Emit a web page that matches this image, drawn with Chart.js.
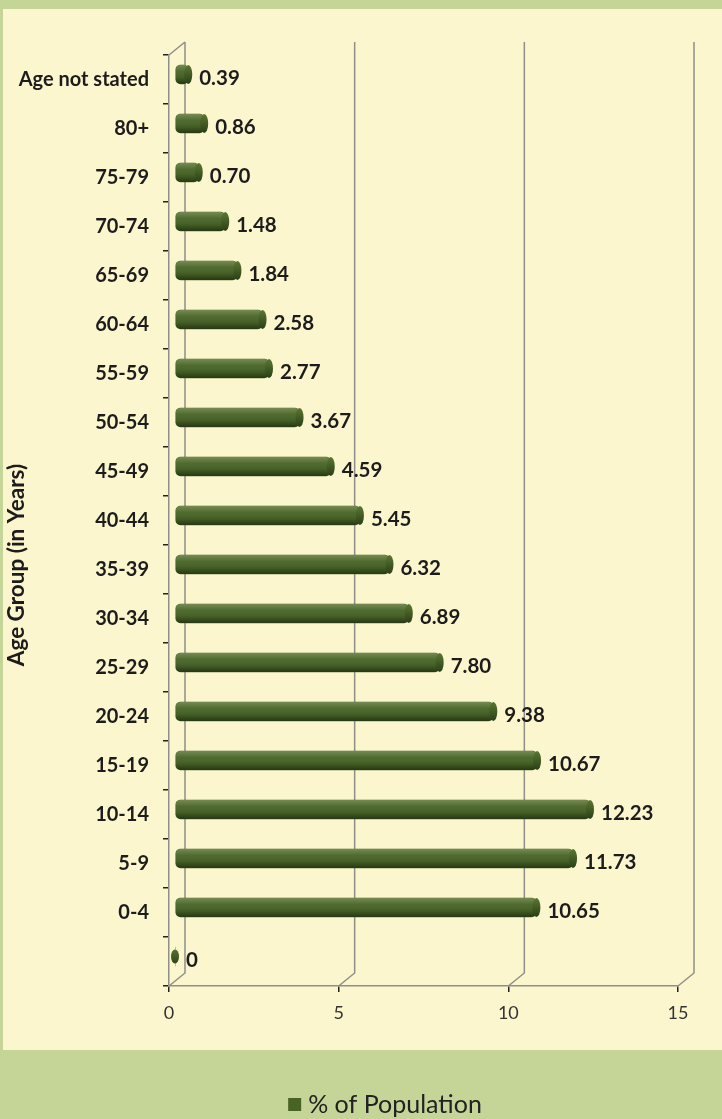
<!DOCTYPE html>
<html>
<head>
<meta charset="utf-8">
<script src="https://cdn.jsdelivr.net/npm/chart.js@4.4.1/dist/chart.umd.min.js"></script>
<style>
  html, body { margin: 0; padding: 0; background: #c5d597; }
  #wrap { width: 722px; height: 1119px; }
</style>
</head>
<body>
<div id="wrap"><canvas id="myChart" width="722" height="1119"></canvas></div>
<script>
const ageGroups = ['Age not stated', '80+', '75-79', '70-74', '65-69', '60-64', '55-59', '50-54', '45-49',
    '40-44', '35-39', '30-34', '25-29', '20-24', '15-19', '10-14', '5-9', '0-4', ''];
const population = [0.39, 0.86, 0.70, 1.48, 1.84, 2.58, 2.77, 3.67, 4.59,
    5.45, 6.32, 6.89, 7.80, 9.38, 10.67, 12.23, 11.73, 10.65, 0];
const xTicks = [0, 5, 10, 15];
const yTitle = 'Age Group (in Years)';
const seriesName = '% of Population';

const FONT = 'Lato';
const BAR_COLOR = '#476426';
const DEPTH_X = 16, DEPTH_Y = 13; // 3d wall offset
const BAR_DX = 6, BAR_DY = -5;    // bars sit half way into the depth

const ctx = document.querySelector('#myChart').getContext('2d');

const frame3d = {
    id: 'frame3d',
    beforeDraw(chart) {
        const c = chart.ctx;
        c.save();
        c.fillStyle = '#c5d597';
        c.fillRect(0, 0, chart.width, chart.height);
        c.fillStyle = '#fbf6cd';
        c.fillRect(3, 9, chart.width - 3, 1041);
        // axis title, sits a bit lower than the middle of the axis
        c.translate(17, 565);
        c.rotate(-Math.PI / 2);
        c.fillStyle = '#1c1c1c';
        c.font = 'bold 22.5px ' + FONT;
        c.textAlign = 'center';
        c.textBaseline = 'middle';
        c.fillText(yTitle, 0, 0);
        c.restore();
    },
    beforeDatasetsDraw(chart) {
        const c = chart.ctx;
        const {top, bottom, left} = chart.chartArea;
        const xs = chart.scales.x;
        c.save();
        c.strokeStyle = '#8f8f8a';
        c.lineWidth = 1.5;
        c.beginPath();
        // left wall top edge
        c.moveTo(left, top);
        c.lineTo(left + DEPTH_X, top - DEPTH_Y);
        xTicks.forEach(v => {
            const x = xs.getPixelForValue(v);
            c.moveTo(x, bottom);
            c.lineTo(x + DEPTH_X, bottom - DEPTH_Y);
            c.lineTo(x + DEPTH_X, top - DEPTH_Y);
        });
        c.stroke();
        c.restore();

        c.save();
        c.translate(BAR_DX, BAR_DY);
    },
    afterDatasetsDraw(chart) {
        const c = chart.ctx;
        const meta = chart.getDatasetMeta(0);
        meta.data.forEach((bar, i) => {
            const {x, y, base, height} = bar.getProps(['x', 'y', 'base', 'height'], true);
            const h = height;
            // shading on the cylinder
            if (x - base > 2) {
                const g = c.createLinearGradient(0, y - h / 2, 0, y + h / 2);
                g.addColorStop(0, 'rgba(255,255,210,0.25)');
                g.addColorStop(0.35, 'rgba(255,255,255,0.04)');
                g.addColorStop(0.7, 'rgba(0,0,0,0.1)');
                g.addColorStop(1, 'rgba(0,0,0,0.45)');
                c.fillStyle = g;
                c.beginPath();
                c.roundRect(base, y - h / 2, x - base, h, 5);
                c.fill();
            }
            // end cap
            const eg = c.createLinearGradient(0, y - h / 2, 0, y + h / 2);
            eg.addColorStop(0, '#5a7832');
            eg.addColorStop(1, '#2b3e17');
            c.fillStyle = eg;
            c.beginPath();
            c.ellipse(x, y, 4, (x - base > 2 ? h / 2 : h / 2.7), 0, 0, Math.PI * 2);
            c.fill();

            // value label
            const v = population[i];
            c.fillStyle = '#1c1c1c';
            c.font = 'bold 20.5px ' + FONT;
            c.textAlign = 'left';
            c.textBaseline = 'middle';
            c.fillText(v === 0 ? '0' : v.toFixed(2), x + 11, y + 4);
        });
        c.restore();
    },
    afterDraw(chart) {
        // legend, centred a little right of the panel middle
        const c = chart.ctx;
        c.save();
        c.font = '25px ' + FONT;
        const tw = c.measureText(seriesName).width;
        const x0 = 385 - (13 + 7 + tw) / 2;
        c.fillStyle = BAR_COLOR;
        c.fillRect(x0, 1098, 13, 13);
        c.fillStyle = '#222';
        c.textAlign = 'left';
        c.textBaseline = 'middle';
        c.fillText(seriesName, x0 + 20, 1105);
        c.restore();
    }
};

const myChart = new Chart(ctx, {
    type: 'bar',
    data: {
        labels: ageGroups,
        datasets: [{
            label: seriesName,
            data: population,
            backgroundColor: BAR_COLOR,
            borderWidth: 0,
            borderRadius: 5,
            borderSkipped: false,
            barThickness: 19
        }]
    },
    options: {
        indexAxis: 'y',
        responsive: false,
        animation: false,
        layout: { padding: { top: 55, right: 44, left: 0, bottom: 0 } },
        scales: {
            x: {
                min: 0,
                max: 15,
                afterBuildTicks: s => { s.ticks = xTicks.map(v => ({value: v})); },
                afterFit: s => { s.height = 1119 - 986; },
                grid: { drawOnChartArea: false, tickLength: 6, color: '#222', lineWidth: 1.5 },
                border: { color: '#8f8f8a', width: 1.5 },
                ticks: { font: { family: FONT, size: 18 }, color: '#333', padding: 10 }
            },
            y: {
                afterFit: s => { s.width = 169; },
                grid: { drawOnChartArea: false, tickLength: 6, color: '#222', lineWidth: 1.5, offset: true },
                border: { color: '#8f8f8a', width: 1.5 },
                ticks: { font: { family: FONT, size: 20, weight: 'bold' }, color: '#1c1c1c', padding: 14, autoSkip: false }
            }
        },
        plugins: {
            legend: { display: false },
            tooltip: { enabled: false }
        }
    },
    plugins: [frame3d]
});
</script>
</body>
</html>
